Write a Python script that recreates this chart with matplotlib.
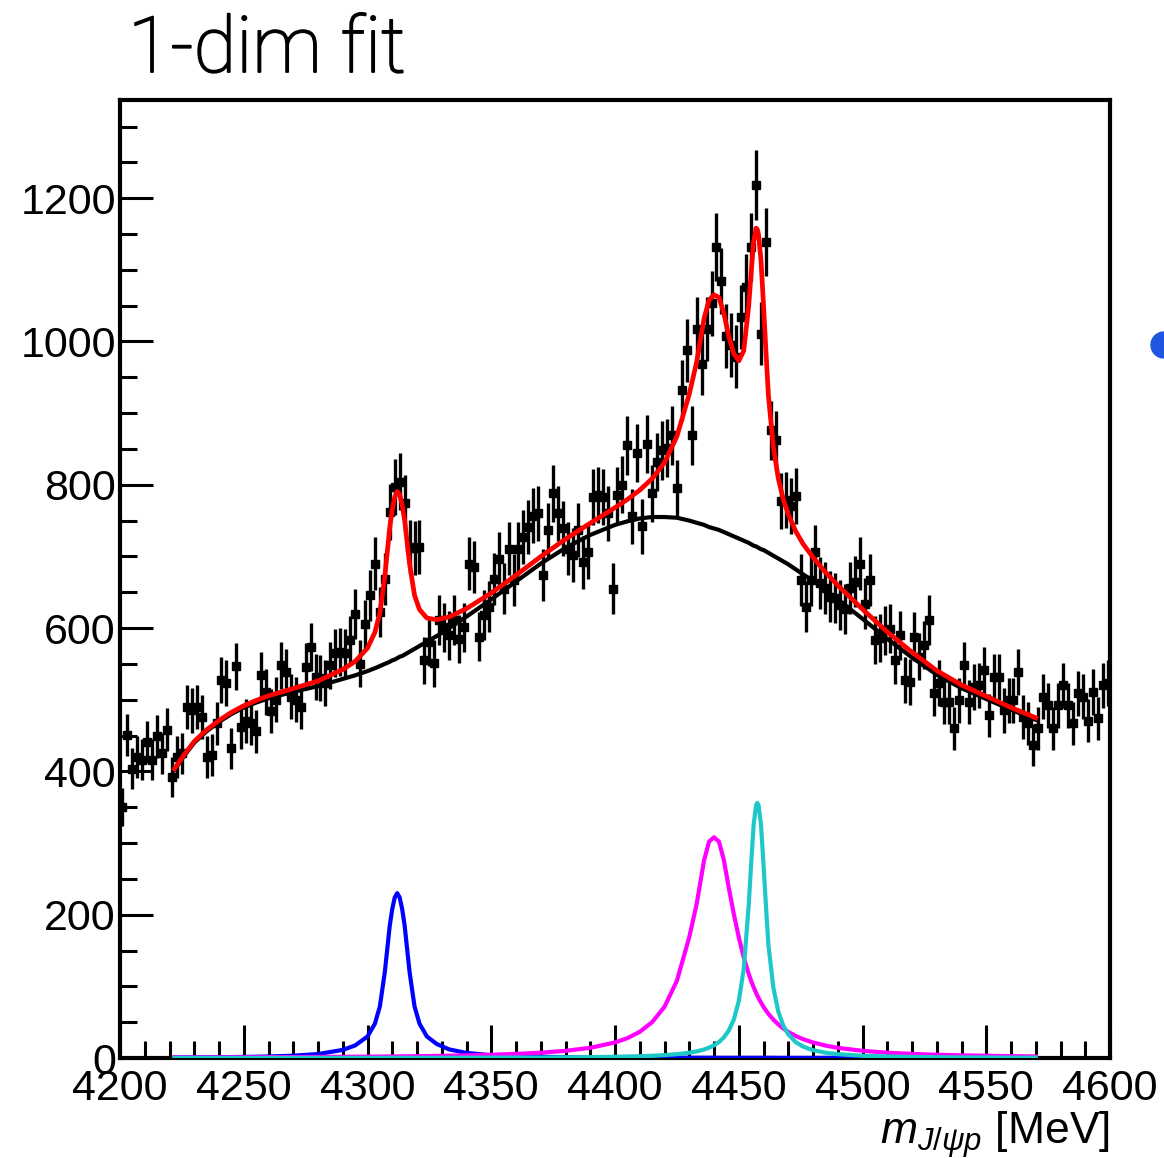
import numpy as np
import matplotlib
matplotlib.use("Agg")
import matplotlib.pyplot as plt
import matplotlib.patheffects as pe
from matplotlib.patches import Ellipse

# binned data: 2 MeV bins, centres 4201 ... 4599
bin_centres = np.arange(4201, 4600, 2)
counts = [
    350, 451, 404, 420, 416, 441, 416, 449, 425, 458,
    392, 420, 425, 490, 485, 490, 476, 420, 423, 467,
    527, 523, 432, 547, 462, 470, 467, 456, 534, 511,
    484, 500, 548, 539, 504, 500, 490, 546, 573, 532,
    530, 523, 548, 565, 567, 565, 583, 620, 550, 605,
    646, 690, 622, 668, 762, 797, 804, 774, 713, 712,
    713, 555, 581, 551, 611, 601, 590, 611, 585, 601,
    690, 685, 588, 618, 630, 669, 697, 655, 711, 667,
    711, 727, 741, 757, 760, 674, 737, 788, 760, 739,
    711, 702, 737, 692, 706, 783, 786, 783, 760, 655,
    786, 800, 855, 756, 844, 742, 857, 788, 832, 848,
    851, 869, 795, 932, 988, 869, 1018, 969, 1018, 1053,
    1132, 1085, 1008, 995, 979, 1034, 1076, 1132, 1218, 1011,
    1139, 876, 862, 777, 779, 770, 784, 667, 630, 667,
    706, 663, 656, 644, 642, 632, 627, 656, 665, 690,
    634, 667, 583, 586, 597, 599, 555, 590, 527, 525,
    588, 560, 576, 611, 509, 523, 497, 497, 460, 499,
    548, 497, 518, 520, 541, 478, 532, 532, 485, 499,
    499, 539, 476, 467, 437, 460, 504, 492, 460, 492,
    520, 492, 467, 509, 504, 471, 511, 474, 520, 523,
]
errors = 1.4 * np.sqrt(counts)

# fit components, sampled along the mass axis
fit_x = [4222, 4226, 4230, 4235, 4240, 4245, 4250, 4255, 4260, 4270,
         4280, 4290, 4295, 4300, 4303, 4305, 4307, 4309, 4310, 4311,
         4312, 4313, 4314, 4315, 4317, 4319, 4321, 4324, 4328, 4333,
         4340, 4350, 4360, 4370, 4380, 4390, 4400, 4405, 4410, 4415,
         4420, 4425, 4430, 4433, 4436, 4438, 4440, 4442, 4444, 4446,
         4448, 4450, 4452, 4454, 4455, 4456, 4457, 4457.5, 4458, 4459,
         4460, 4461, 4462, 4464, 4466, 4468, 4470, 4473, 4476, 4480,
         4485, 4490, 4500, 4510, 4520, 4530, 4540, 4550, 4560, 4570]
background = [402, 422, 440, 456, 469, 480, 489, 496, 502, 511,
              519, 529, 534, 540, 544, 547, 550, 553, 555, 556,
              558, 560, 561, 563, 567, 571, 575, 581, 589, 600,
              616, 640, 665, 690, 712, 730, 744, 749, 753, 755,
              755, 754, 750, 747, 744, 741, 739, 737, 734, 731,
              728, 725, 722, 719, 717, 715, 714, 713, 712, 710,
              709, 707, 705, 701, 697, 693, 689, 682, 675, 666,
              653, 640, 613, 585, 559, 535, 516, 501, 486, 472]
pc_4312 = [0.7, 0.8, 0.9, 1.0, 1.1, 1.3, 1.5, 1.8, 2.1, 3.2,
           5.5, 11.3, 17.5, 30.0, 48.0, 72.0, 120, 185, 208, 224,
           230, 224, 208, 185, 120, 72.0, 48.0, 30.0, 19.5, 12.0,
           7.1, 3.9, 2.5, 1.7, 1.2, 0.9, 0.7, 0.7, 0.6, 0.5,
           0.5, 0.5, 0.4, 0.4, 0.4, 0.4, 0.4, 0.3, 0.3, 0.3,
           0.3, 0.3, 0.3, 0.3, 0.3, 0.3, 0.3, 0.3, 0.3, 0.3,
           0.3, 0.3, 0.3, 0.3, 0.2, 0.2, 0.2, 0.2, 0.2, 0.2,
           0.2, 0.2, 0.2, 0.2, 0.1, 0.1, 0.1, 0.1, 0.1, 0.1]
pc_4440 = [0.8, 0.8, 0.8, 0.9, 0.9, 1.0, 1.0, 1.1, 1.2, 1.3,
           1.5, 1.7, 1.8, 1.9, 2.0, 2.0, 2.1, 2.2, 2.2, 2.2,
           2.3, 2.3, 2.3, 2.4, 2.4, 2.5, 2.6, 2.7, 2.9, 3.2,
           3.7, 4.5, 5.7, 7.4, 10.0, 14.2, 21.7, 27.7, 36.5, 50.0,
           71.5, 107.7, 168.6, 215, 276, 302, 308, 302, 276, 237,
           201, 168.6, 140.6, 117.6, 107.7, 98.9, 90.9, 87.2, 83.7, 77.3,
           71.5, 66.3, 61.6, 53.5, 46.8, 41.2, 36.5, 30.8, 26.3, 21.7,
           17.4, 14.2, 10.0, 7.4, 5.7, 4.5, 3.7, 3.1, 2.6, 2.2]
pc_4457 = [0.1, 0.1, 0.1, 0.1, 0.1, 0.1, 0.1, 0.1, 0.2, 0.2,
           0.2, 0.2, 0.2, 0.2, 0.2, 0.2, 0.2, 0.3, 0.3, 0.3,
           0.3, 0.3, 0.3, 0.3, 0.3, 0.3, 0.3, 0.3, 0.3, 0.4,
           0.4, 0.5, 0.6, 0.7, 1.0, 1.3, 1.7, 2.1, 2.5, 3.1,
           4.0, 5.3, 7.4, 9.2, 11.9, 14.4, 17.7, 22.2, 28.8, 38.5,
           53.7, 79.1, 124, 212, 270, 325, 353, 356, 353, 325,
           270, 212, 157, 97.8, 64.5, 45.1, 33.1, 22.2, 15.9, 10.9,
           7.4, 5.3, 3.1, 2.1, 1.5, 1.1, 0.8, 0.7, 0.5, 0.5]

total_fit = (np.array(background) + np.array(pc_4312)
             + np.array(pc_4440) + np.array(pc_4457))

plt.rcParams['font.family'] = ['Liberation Sans', 'DejaVu Sans']
plt.rcParams['mathtext.fontset'] = 'custom'
plt.rcParams['mathtext.it'] = 'Liberation Sans:italic'
plt.rcParams['mathtext.rm'] = 'Liberation Sans'

fig = plt.figure(figsize=(11.64, 11.58), dpi=100)
ax = fig.add_axes([120 / 1164, 1 - 1058 / 1158, 990 / 1164, 958 / 1158])

ax.errorbar(bin_centres, counts, yerr=errors, fmt='s', color='black',
            markersize=5.5, elinewidth=2.4, capsize=0, zorder=2)

ax.plot(fit_x, pc_4312, color='#0000ff', lw=3, zorder=3)
ax.plot(fit_x, pc_4440, color='#ff00ff', lw=3, zorder=3)
ax.plot(fit_x, pc_4457, color='#1ec8c8', lw=3, zorder=4)
ax.plot(fit_x, background, color='black', lw=3, zorder=5)
ax.plot(fit_x, total_fit, color='#ff0000', lw=3.4, zorder=6)

ax.set_xlim(4200, 4600)
ax.set_ylim(0, 1337)
ax.set_xticks(np.arange(4200, 4601, 50))
ax.set_xticks(np.arange(4200, 4601, 10), minor=True)
ax.set_yticks(np.arange(0, 1201, 200))
ax.set_yticks(np.arange(0, 1301, 50), minor=True)
ax.tick_params(which='both', direction='in', width=2.2,
               top=False, right=False)
ax.tick_params(axis='y', labelsize=31, pad=3)
ax.tick_params(axis='x', labelsize=31, pad=8)
ax.tick_params(which='major', length=24)
ax.tick_params(which='minor', length=12)
for side in ax.spines.values():
    side.set_linewidth(3)

ax.set_xlabel(r'$m_{J/\psi p}$ [MeV]', fontsize=32, loc='right', labelpad=0)

fig.text(128 / 1164, 1 - 72 / 1158, '1-dim fit', fontsize=56,
         family=['Roboto', 'DejaVu Sans'], fontweight='light', va='baseline',
         path_effects=[pe.withStroke(linewidth=1.3, foreground='black')])

dot = Ellipse((1164 / 1164, 1 - 345 / 1158), 26 / 1164, 26 / 1158,
              transform=fig.transFigure, color='#1f56e0')
fig.patches.append(dot)

fig.savefig('out.png', dpi=100)
